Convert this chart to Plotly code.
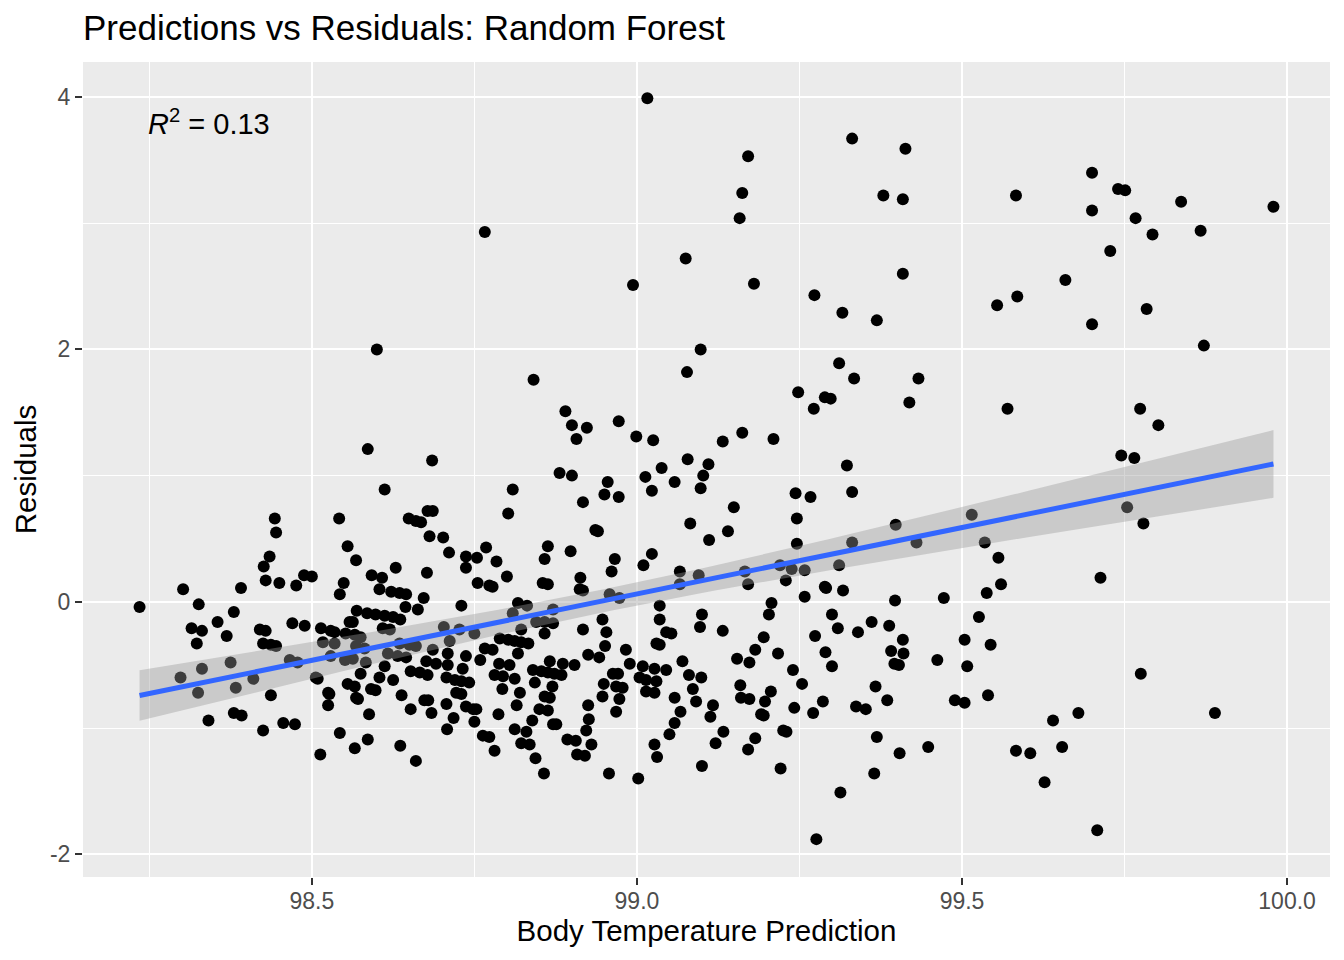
import numpy as np
import plotly.graph_objects as go

# predicted body temperature vs residual
# (split into bands along the x axis just to keep the lists manageable)
band_low = [
    (98.235, -0.04), (98.298, -0.60), (98.302, 0.10), (98.315, -0.21), (98.323, -0.33),
    (98.325, -0.72), (98.326, -0.02), (98.331, -0.53), (98.331, -0.23), (98.341, -0.94),
    (98.355, -0.16), (98.369, -0.27), (98.375, -0.48), (98.38, -0.08), (98.38, -0.88),
    (98.383, -0.68), (98.391, 0.11), (98.392, -0.90), (98.41, -0.61), (98.42, -0.22),
    (98.425, -0.33), (98.425, -1.02), (98.426, 0.28), (98.429, 0.17), (98.429, -0.23),
    (98.435, 0.36), (98.437, -0.34), (98.437, -0.74), (98.443, 0.66), (98.445, 0.55),
    (98.445, -0.35), (98.45, 0.15), (98.456, -0.96), (98.466, -0.46), (98.47, -0.17),
    (98.474, -0.97), (98.476, 0.13), (98.478, -0.48), (98.488, 0.21), (98.489, -0.19),
    (98.50, 0.20), (98.506, -0.60), (98.509, -0.61), (98.513, -1.21), (98.514, -0.21),
    (98.517, -0.32), (98.525, -0.72), (98.527, -0.73), (98.525, -0.82), (98.529, -0.23),
    (98.529, -0.43), (98.535, -0.24), (98.535, -0.33), (98.542, 0.66), (98.543, 0.06),
    (98.543, -1.04), (98.549, 0.15), (98.551, -0.46), (98.552, -0.25), (98.555, 0.44),
    (98.555, -0.65), (98.558, -0.16), (98.563, -0.16), (98.563, -0.45), (98.566, -0.26),
    (98.566, -0.67), (98.566, -1.16), (98.568, 0.33), (98.568, -0.35), (98.568, -0.76),
    (98.569, -0.07), (98.571, -0.77), (98.575, -0.28), (98.575, -0.57), (98.581, -0.37),
    (98.583, -0.48), (98.585, -0.09), (98.586, 1.21), (98.586, -1.09), (98.588, -0.89),
    (98.591, -0.69), (98.592, 0.21), (98.598, -0.10), (98.598, -0.70), (98.60, 2.00),
    (98.604, 0.10), (98.604, -0.60), (98.608, 0.19), (98.609, -0.21), (98.612, 0.89),
    (98.612, -0.11), (98.612, -0.51), (98.617, -0.41), (98.62, -0.22), (98.622, 0.08),
    (98.625, -0.12), (98.625, -0.62), (98.629, 0.27), (98.632, -0.43), (98.635, 0.07),
    (98.635, -0.33), (98.636, -0.14), (98.636, -1.14), (98.638, -0.74), (98.644, -0.04),
    (98.645, 0.06), (98.645, -0.44), (98.649, 0.66), (98.65, -0.34), (98.652, -0.55),
    (98.652, -0.85), (98.66, 0.64), (98.66, -0.35), (98.66, -1.26), (98.663, -0.06),
    (98.666, -0.56), (98.668, 0.63),
]

band_mid = [
    (98.672, 0.03), (98.673, -0.78), (98.677, 0.23), (98.678, 0.72), (98.678, -0.58),
    (98.679, -0.78), (98.681, 0.52), (98.684, -0.88), (98.685, 1.12), (98.686, 0.72),
    (98.686, -0.38), (98.691, -0.49), (98.676, -0.47), (98.702, 0.51), (98.703, -0.20),
    (98.707, -0.60), (98.707, -0.81), (98.708, -1.01), (98.709, -0.41), (98.709, -0.50),
    (98.711, 0.39), (98.712, -0.31), (98.718, -0.92), (98.72, -0.62), (98.722, -0.72),
    (98.727, -0.22), (98.73, -0.03), (98.73, -0.63), (98.73, -0.73), (98.732, -0.53),
    (98.737, 0.36), (98.737, 0.27), (98.737, -0.43), (98.737, -0.83), (98.742, -0.64),
    (98.748, -0.85), (98.75, -0.25), (98.75, -0.95), (98.753, -0.85), (98.754, 0.35),
    (98.755, 0.15), (98.759, -0.46), (98.763, -1.06), (98.766, 2.93), (98.766, -0.37),
    (98.768, 0.43), (98.773, 0.13), (98.773, -1.07), (98.778, 0.12), (98.778, -0.38),
    (98.781, -0.58), (98.781, -1.18), (98.784, 0.32), (98.787, -0.89), (98.788, -0.49),
    (98.789, -0.29), (98.793, -0.69), (98.794, -0.59), (98.80, 0.20), (98.802, 0.70),
    (98.802, -0.30), (98.804, -0.50), (98.809, 0.89), (98.809, -0.09), (98.812, -0.61),
    (98.812, -0.31), (98.812, -1.01), (98.815, -0.82), (98.817, -0.01), (98.817, -0.41),
    (98.82, -0.72), (98.822, -0.22), (98.822, -0.32), (98.822, -1.12), (98.83, -1.03),
    (98.831, -0.03), (98.833, -0.33), (98.835, -1.13), (98.839, -0.94), (98.84, -0.54),
    (98.841, 1.76), (98.843, -0.64), (98.844, -1.24), (98.845, -0.16), (98.85, -0.85),
    (98.853, -0.55), (98.855, 0.15), (98.857, -1.36), (98.858, 0.34), (98.858, -0.16),
    (98.858, -0.25), (98.858, -0.75), (98.863, 0.44), (98.863, 0.14), (98.863, -0.56),
    (98.863, -0.86), (98.866, -0.47), (98.866, -0.76), (98.87, -0.67), (98.871, -0.06),
    (98.871, -0.17), (98.871, -0.97), (98.873, -0.57), (98.876, -0.97), (98.881, 1.02),
    (98.884, -0.58), (98.886, -0.49), (98.89, 1.51), (98.893, -1.09), (98.898, 0.40),
    (98.90, 1.40), (98.90, 1.00), (98.904, -0.50), (98.906, -1.10), (98.907, 1.29),
    (98.908, -1.21), (98.912, 0.10), (98.913, 0.19), (98.917, 0.79), (98.917, 0.09),
    (98.917, -0.22), (98.92, -1.22), (98.922, -1.02), (98.923, 1.38), (98.925, -0.42),
    (98.925, -0.82), (98.926, -0.93), (98.93, -1.13), (98.936, 0.57), (98.94, 0.56),
    (98.942, -0.44), (98.947, -0.14), (98.947, -0.75), (98.949, -0.65), (98.95, 0.85),
    (98.951, -0.35), (98.953, -0.24), (98.955, 0.95), (98.957, -1.36), (98.958, 0.06),
    (98.961, 0.24), (98.963, -0.57), (98.966, 0.34), (98.968, -0.67), (98.968, -0.87),
    (98.971, -0.57), (98.972, 1.43), (98.972, 0.83), (98.973, 0.03), (98.973, -0.77),
    (98.978, -0.68), (98.983, -0.38), (98.989, -0.49), (98.994, 2.51), (98.999, 1.31),
    (99.002, -1.40), (99.004, -0.60), (99.009, -0.51), (99.01, 0.29), (99.013, 0.99),
    (99.014, -0.62), (99.014, -0.71), (99.016, 3.99), (99.023, 0.88), (99.023, 0.38),
    (99.025, 1.28), (99.027, -0.53), (99.027, -0.72), (99.027, -1.13), (99.03, -0.33),
    (99.03, -0.63), (99.031, -1.23), (99.035, -0.03), (99.035, -0.14), (99.035, -0.34),
    (99.038, 1.06), (99.045, -0.24), (99.045, -0.54), (99.05, -1.05), (99.053, -0.25),
    (99.058, 0.95), (99.058, -0.76), (99.058, -0.96), (99.066, 0.24), (99.066, 0.14),
    (99.067, -0.87), (99.07, -0.47), (99.075, 2.72), (99.077, 1.82), (99.078, 1.13),
    (99.08, -0.58), (99.082, 0.62), (99.086, -0.69), (99.091, -0.79), (99.095, 0.21),
    (99.097, -0.20), (99.098, 2.00), (99.098, 0.90), (99.099, -0.60), (99.10, -0.10),
    (99.10, -1.30), (99.102, 1.00), (99.11, 1.09), (99.111, 0.49), (99.113, -0.91),
    (99.117, -0.82), (99.121, -1.12), (99.132, 1.27), (99.132, -0.23), (99.133, -1.03),
    (99.14, 0.56), (99.149, 0.75), (99.154, -0.45), (99.158, 3.04), (99.159, -0.66),
    (99.16, -0.76), (99.162, 3.24), (99.162, 1.34), (99.166, 0.24), (99.171, 3.53),
    (99.171, 0.14), (99.171, -1.17), (99.173, -0.48), (99.173, -0.77),
]

band_high = [
    (99.18, 2.52), (99.182, -0.38), (99.182, -1.08), (99.191, -0.89), (99.195, -0.28),
    (99.195, -0.90), (99.197, -0.79), (99.203, -0.10), (99.206, -0.71), (99.207, -0.01),
    (99.21, 1.29), (99.217, -0.41), (99.22, 0.29), (99.221, -1.32), (99.225, -1.02),
    (99.229, 0.17), (99.23, -1.03), (99.238, 0.26), (99.24, -0.54), (99.242, -0.84),
    (99.244, 0.86), (99.246, 0.66), (99.246, 0.46), (99.248, 1.66), (99.254, -0.65),
    (99.258, 0.25), (99.258, 0.04), (99.267, 0.83), (99.271, -0.88), (99.272, 1.53),
    (99.273, 2.43), (99.274, -0.27), (99.276, -1.88), (99.286, -0.79), (99.289, 1.62),
    (99.289, 0.12), (99.29, -0.40), (99.291, 0.11), (99.298, 1.61), (99.30, -0.10),
    (99.30, -0.51), (99.309, -0.21), (99.311, 1.89), (99.311, 0.29), (99.313, -1.51),
    (99.316, 2.29), (99.317, 0.09), (99.323, 1.08), (99.331, 3.67), (99.331, 0.87),
    (99.331, 0.47), (99.334, 1.77), (99.337, -0.83), (99.34, -0.24), (99.352, -0.85),
    (99.361, -0.16), (99.365, -1.36), (99.367, -0.67), (99.369, 2.23), (99.369, -1.07),
    (99.379, 3.22), (99.385, -0.78), (99.388, -0.19), (99.391, -0.39), (99.396, -0.49),
    (99.397, 0.01), (99.398, 0.61), (99.403, -0.50), (99.404, -1.20), (99.409, 3.19),
    (99.409, 2.60), (99.409, -0.30), (99.41, -0.41), (99.413, 3.59), (99.419, 1.58),
    (99.43, 0.47), (99.433, 1.77), (99.448, -1.15), (99.462, -0.46), (99.472, 0.03),
    (99.489, -0.78), (99.504, -0.30), (99.504, -0.80), (99.508, -0.51), (99.515, 0.69),
    (99.526, -0.12), (99.535, 0.47), (99.538, 0.07), (99.54, -0.74), (99.544, -0.34),
    (99.554, 2.35), (99.556, 0.35), (99.56, 0.14), (99.57, 1.53), (99.583, 3.22),
    (99.583, -1.18), (99.585, 2.42), (99.605, -1.20), (99.627, -1.43), (99.64, -0.94),
    (99.654, -1.15), (99.659, 2.55),
]

band_top = [
    (99.679, -0.88), (99.70, 3.40), (99.70, 3.10), (99.70, 2.20), (99.708, -1.81),
    (99.713, 0.19), (99.728, 2.78), (99.74, 3.27), (99.745, 1.16), (99.751, 3.26),
    (99.754, 0.75), (99.765, 1.14), (99.767, 3.04), (99.774, 1.53), (99.775, -0.57),
    (99.779, 0.62), (99.784, 2.32), (99.793, 2.91), (99.802, 1.40), (99.837, 3.17),
    (99.867, 2.94), (99.872, 2.03), (99.889, -0.88), (99.979, 3.13),
]

x_ticks = [98.5, 99.0, 99.5, 100.0]
x_tick_text = ["98.5", "99.0", "99.5", "100.0"]
y_ticks = [-2, 0, 2, 4]
y_tick_text = ["-2", "0", "2", "4"]
r2_label = "<i>R</i><sup>2</sup> = 0.13"

pts = band_low + band_mid + band_high + band_top
pred = np.array([p[0] for p in pts])
resid = np.array([p[1] for p in pts])

# linear fit + 95% confidence band, like geom_smooth(method = "lm")
n = len(pred)
slope, intercept = np.polyfit(pred, resid, 1)
s = np.sqrt(np.sum((resid - (intercept + slope * pred)) ** 2) / (n - 2))
sxx = np.sum((pred - pred.mean()) ** 2)
xs = np.linspace(pred.min(), pred.max(), 80)
fit = intercept + slope * xs
se = s * np.sqrt(1 / n + (xs - pred.mean()) ** 2 / sxx)
lo, hi = fit - 1.965 * se, fit + 1.965 * se

font = "Liberation Sans, Arial, Helvetica, sans-serif"

fig = go.Figure()
fig.add_trace(go.Scatter(x=pred, y=resid, mode="markers",
                         marker=dict(color="black", size=12, line=dict(width=0)),
                         showlegend=False, hoverinfo="x+y"))
fig.add_trace(go.Scatter(x=xs, y=lo, mode="lines", line=dict(width=0),
                         showlegend=False, hoverinfo="skip"))
fig.add_trace(go.Scatter(x=xs, y=hi, mode="lines", line=dict(width=0),
                         fill="tonexty", fillcolor="rgba(153,153,153,0.4)",
                         showlegend=False, hoverinfo="skip"))
fig.add_trace(go.Scatter(x=xs, y=fit, mode="lines",
                         line=dict(color="#3366FF", width=5),
                         showlegend=False, hoverinfo="skip"))

fig.add_annotation(x=98.245, y=3.80, xref="x", yref="y", text=r2_label,
                   showarrow=False, xanchor="left", yanchor="middle",
                   font=dict(family=font, size=29, color="black"))

axis_common = dict(showline=False, zeroline=False, ticks="outside", ticklen=7,
                   tickwidth=2, tickcolor="#333333", gridcolor="white", gridwidth=2,
                   automargin=False,
                   tickfont=dict(family=font, size=23, color="#4D4D4D"))

# the page body adds an 8px offset, so margins are shifted to land the panel
# where the reference has it
fig.update_layout(
    width=1344, height=960,
    paper_bgcolor="white", plot_bgcolor="#EBEBEB",
    margin=dict(l=75, r=22, t=54, b=91),
    title=dict(text="Predictions vs Residuals: Random Forest", x=0, xref="paper",
               xanchor="left", y=1 - 20 / 960, yref="container", yanchor="middle",
               font=dict(family=font, size=35, color="black")),
    xaxis=dict(range=[98.148, 100.066], tickvals=x_ticks, ticktext=x_tick_text,
               ticklabelstandoff=-4,
               title=dict(text="Body Temperature Prediction", standoff=1,
                          font=dict(family=font, size=29.5, color="black")),
               minor=dict(dtick=0.25, tick0=98.25, showgrid=True,
                          gridcolor="white", gridwidth=1, ticks=""),
               **axis_common),
    yaxis=dict(range=[-2.18, 4.277], tickvals=y_ticks, ticktext=y_tick_text,
               title=dict(text="Residuals", standoff=4,
                          font=dict(family=font, size=29.5, color="black")),
               minor=dict(dtick=1, tick0=1, showgrid=True,
                          gridcolor="white", gridwidth=1, ticks=""),
               **axis_common),
)

fig.write_html("out.html")
